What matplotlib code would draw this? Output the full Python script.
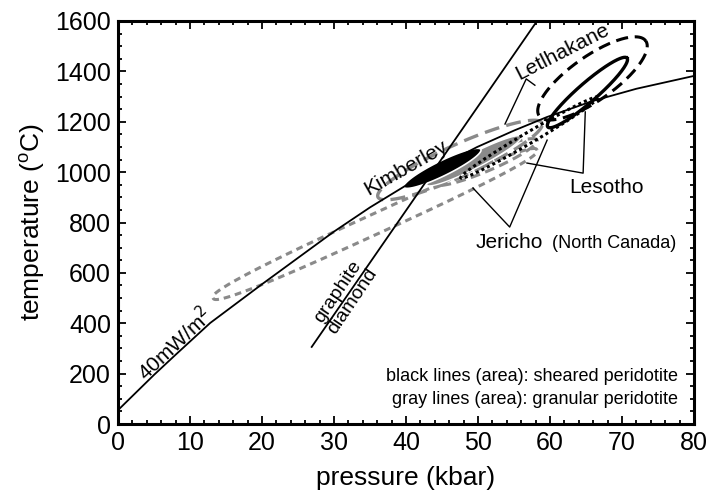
import numpy as np
import matplotlib
matplotlib.use('Agg')
import matplotlib.pyplot as plt

plt.rcParams['font.family'] = ['Liberation Sans', 'DejaVu Sans']

# 40 mW/m2 geotherm (kbar, degC)
geo_p = [0, 2.5, 5, 8, 12.8, 20, 29.9, 35, 40.1, 45, 49.9, 55, 59.6, 66, 72, 80]
geo_t = [55, 125, 195, 275, 401, 555, 762, 860, 949, 1028, 1100, 1165, 1219, 1283, 1331, 1382]

# graphite / diamond boundary
gd_p = [26.9, 58.2]
gd_t = [306, 1600]

# P-T fields: two ends (P, T) and half thickness in px
kim_black = [39.7, 940, 50.4, 1090, 7.5]
gray_fill = [42.9, 949, 56.0, 1141, 7.5]
kim_gray = [36.1, 901, 58.9, 1195, 16]
les_gray = [44.0, 953, 58.2, 1127, 9]
jer_gray = [13.2, 500, 58.2, 1088, 10]
jer_black = [47.6, 977, 66.7, 1298, 5.5]
les_black = [59.7, 1179, 70.7, 1453, 9.5]
let_black = [58.5, 1223, 73.3, 1521, 22]

# leader lines (P, T) polylines
let_lead = [[53.75, 1191], [56.7, 1370], [57.9, 1345]]
les_lead = [[56.8, 1036], [64.6, 996], [64.9, 1239]]
jer_lead = [[49.3, 937], [54.4, 782], [59.6, 1127]]

PX_P = 576 / 80.0
PX_T = 403 / 1600.0


def contour(f, n=2.0, npts=300):
    # ellipse (or rounder box when n>2) between two ends, drawn in screen proportions
    p1, t1, p2, t2, hw = f
    x1, y1, x2, y2 = p1 * PX_P, t1 * PX_T, p2 * PX_P, t2 * PX_T
    cx, cy = (x1 + x2) / 2, (y1 + y2) / 2
    a = np.hypot(x2 - x1, y2 - y1) / 2
    ang = np.arctan2(y2 - y1, x2 - x1)
    t = np.linspace(0, 2 * np.pi, npts)
    c, s = np.cos(t), np.sin(t)
    u = a * np.sign(c) * np.abs(c) ** (2 / n)
    v = hw * np.sign(s) * np.abs(s) ** (2 / n)
    x = cx + u * np.cos(ang) - v * np.sin(ang)
    y = cy + u * np.sin(ang) + v * np.cos(ang)
    return x / PX_P, y / PX_T


fig = plt.figure(figsize=(7.12, 5.04), dpi=100)
ax = fig.add_axes([118 / 712, 1 - 424 / 504, 576 / 712, 403 / 504])

GRAY = '#8a8a8a'

# gray (granular) fields
x, y = contour(jer_gray, n=2.6)
ax.plot(x, y, color=GRAY, lw=2.2, dashes=(2.2, 1.6))
x, y = contour(kim_gray)
ax.plot(x, y, color=GRAY, lw=2.4, dashes=(4.5, 2.2))
x, y = contour(les_gray)
ax.plot(x, y, color=GRAY, lw=2.2, dashes=(3.2, 1.8))
x, y = contour(gray_fill)
ax.fill(x, y, color=GRAY, ec='white', lw=1, zorder=2.5)

# black (sheared) fields
x, y = contour(kim_black)
ax.fill(x, y, color='black', ec='white', lw=1.2, zorder=3)
x, y = contour(jer_black)
ax.plot(x, y, color='black', lw=2.2, dashes=(1, 1), zorder=4)
x, y = contour(les_black)
ax.plot(x, y, color='black', lw=2.4, zorder=4)
x, y = contour(let_black)
ax.plot(x, y, color='black', lw=2.2, dashes=(4.0, 2.2), zorder=4)

# geotherm and graphite-diamond
ax.plot(geo_p, geo_t, color='black', lw=1.3, zorder=5)
ax.plot(gd_p, gd_t, color='black', lw=1.3, zorder=5)

for lead in (let_lead, les_lead, jer_lead):
    lead = np.array(lead)
    ax.plot(lead[:, 0], lead[:, 1], color='black', lw=1.0, zorder=5)

# labels
ax.text(40, 1016, 'Kimberley', fontsize=15, rotation=29.6, ha='center', va='center',
        rotation_mode='anchor')
ax.text(61.7, 1477, 'Letlhakane', fontsize=15, rotation=27, ha='center', va='center',
        rotation_mode='anchor')
ax.text(67.8, 937, 'Lesotho', fontsize=15, ha='center', va='center')
ax.text(49.6, 700, 'Jericho', fontsize=15, ha='left', va='baseline')
ax.text(60.3, 700, '(North Canada)', fontsize=13, ha='left', va='baseline')
ax.text(7.8, 318, '40mW/m$^2$', fontsize=15, rotation=43, ha='center', va='center',
        rotation_mode='anchor')
ax.text(31.6, 505, 'graphite\ndiamond', fontsize=14, rotation=56, ha='center', va='center',
        rotation_mode='anchor', linespacing=1.05)
ax.text(77.8, 187, 'black lines (area): sheared peridotite', fontsize=13, ha='right', va='center')
ax.text(77.8, 99, 'gray lines (area): granular peridotite', fontsize=13, ha='right', va='center')

ax.set_xlim(0, 80)
ax.set_ylim(0, 1600)
ax.set_xticks(np.arange(0, 81, 10))
ax.set_yticks(np.arange(0, 1601, 200))
ax.set_xticks(np.arange(0, 81, 2), minor=True)
ax.set_yticks(np.arange(0, 1601, 50), minor=True)
ax.tick_params(which='both', direction='in', top=True, right=True, labelsize=18, width=1.3)
ax.tick_params(which='major', length=6, pad=5)
ax.tick_params(which='minor', length=3)
for sp in ax.spines.values():
    sp.set_linewidth(2.2)

ax.set_xlabel('pressure (kbar)', fontsize=19, labelpad=8)
ax.set_ylabel(r'temperature ($^\mathregular{o}$C)', fontsize=19, labelpad=6)

fig.savefig('out.png', dpi=100)
